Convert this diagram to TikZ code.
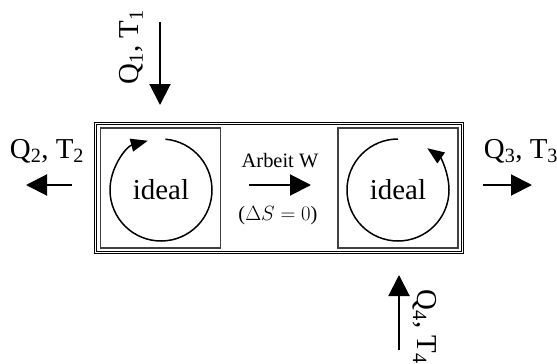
\documentclass[tikz,border=0pt]{standalone}
\usepackage{fontspec}
\setmainfont{Liberation Serif}
\usetikzlibrary{arrows.meta}
\begin{document}
\begin{tikzpicture}[x=1bp, y=1bp, every node/.style={font=\fontsize{29}{31}\selectfont, inner sep=0pt},
  flow/.style={line width=2bp, -{Triangle[width=21bp, length=21bp]}},
  cyc/.style={line width=1.5bp, -{Triangle[width=13bp, length=17bp]}},
  stage/.style={draw=black!75, line width=1.2bp, minimum width=120bp, minimum height=120bp}]
  \useasboundingbox (0,0) rectangle (557,363);
  % machine with two ideal stages
  \node[draw, double, line width=1.2bp, double distance=1.2bp, minimum width=367bp, minimum height=129bp] (machine) at (279,175) {};
  \node[stage] (left) at (160.5,175) {};
  \node[stage] (right) at (398,175) {};
  \node (lc) at (161,173) {ideal};
  \node (rc) at (398,173) {ideal};
  \draw[cyc] ([shift={(85:51)}]lc.center) arc[start angle=85, end angle=-255, radius=51];
  \draw[cyc] ([shift={(90:51)}]rc.center) arc[start angle=90, end angle=415, radius=51];
  % work between the stages
  \coordinate (w0) at (249,178); \coordinate (w1) at (311,178);
  \draw[flow] (w0) -- (w1);
  \node[font=\fontsize{20.5}{22}\selectfont, anchor=base] (work) at (280,196) {Arbeit W};
  \node[font=\fontsize{20.5}{22}\selectfont, anchor=base] (entropy) at (278,143) {($\Delta S = 0$)};
  % heat flows
  \coordinate (q1a) at (160,341); \coordinate (q1b) at (160,258);
  \coordinate (q2a) at (72,178);  \coordinate (q2b) at (26,178);
  \coordinate (q3a) at (483,178); \coordinate (q3b) at (532,178);
  \coordinate (q4a) at (399,13);  \coordinate (q4b) at (399,88);
  \foreach \a/\b in {q1a/q1b, q2a/q2b, q3a/q3b, q4a/q4b}
    \draw[flow] (\a) -- (\b);
  \node[rotate=90] (q1) at (131,316) {Q\textsubscript{1}, T\textsubscript{1}};
  \node[anchor=base] (q2) at (47,205) {Q\textsubscript{2}, T\textsubscript{2}};
  \node[anchor=base] (q3) at (521,205) {Q\textsubscript{3}, T\textsubscript{3}};
  \node[rotate=-90] (q4) at (425,36) {Q\textsubscript{4}, T\textsubscript{4}};
\end{tikzpicture}
\end{document}
